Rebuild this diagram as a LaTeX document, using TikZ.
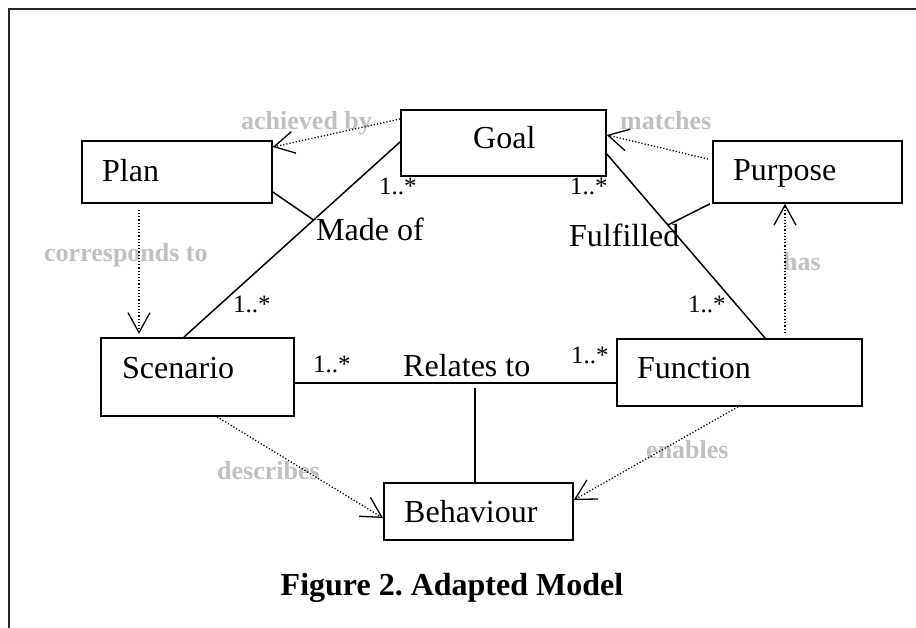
\documentclass[tikz,border=0pt]{standalone}
\usepackage{fontspec}
\setmainfont{Liberation Serif}
\usetikzlibrary{arrows.meta,calc}
\definecolor{lblgray}{RGB}{192,192,192}
\begin{document}
\frenchspacing
\begin{tikzpicture}[x=1pt,y=-1pt,
  box/.style={draw=black, line width=1.8pt, anchor=north west, inner sep=0pt},
  txt/.style={anchor=base west, inner sep=0pt, font=\fontsize{32}{36}\selectfont},
  mult/.style={anchor=base west, inner sep=0pt, font=\fontsize{25}{28}\selectfont},
  rel/.style={anchor=base west, inner sep=0pt, text=lblgray, font=\bfseries\fontsize{26}{30}\selectfont},
  assoc/.style={line width=1.5pt},
  dep/.style={line width=1.3pt, dash pattern=on 1.2pt off 2pt, -{Straight Barb[length=20pt,width=22pt]}},
]
\useasboundingbox (0,0) rectangle (916,628);
\draw[line width=2pt, black!85] (916,9) -- (9,9) -- (9,628);

% boxes
\node[box, minimum width=190pt, minimum height=62pt] (plan) at (81,140) {};
\node[box, minimum width=205pt, minimum height=66pt] (goal) at (400,109) {};
\node[box, minimum width=189pt, minimum height=62pt] (purpose) at (712,140) {};
\node[box, minimum width=193pt, minimum height=78pt] (scen) at (100,337) {};
\node[box, minimum width=245pt, minimum height=67pt] (func) at (616,338) {};
\node[box, minimum width=189pt, minimum height=57pt] (beh) at (383,482) {};

% box texts
\node[txt] (planT) at (102,182) {Plan};
\node[txt] (goalT) at (473,149) {Goal};
\node[txt] (purpT) at (733,181) {Purpose};
\node[txt] (scenT) at (122,378) {Scenario};
\node[txt] (funcT) at (637,378) {Function};
\node[txt] (behT) at (404,522) {Behaviour};

% association names
\node[txt] (relT) at (403,377) {Relates to};
\node[txt] (madeT) at (316,241) {Made of};
\node[txt] (fulT) at (569,247) {Fulfilled};

% multiplicities
\node[mult] (m1) at (379,195) {1..*};
\node[mult] (m2) at (570,195) {1..*};
\node[mult] (m3) at (233,313) {1..*};
\node[mult] (m4) at (688,313) {1..*};
\node[mult] (m5) at (313,373) {1..*};
\node[mult] (m6) at (571,363) {1..*};

% dependency labels
\node[rel] (lach) at (241,130) {achieved by};
\node[rel] (lmat) at (620,130) {matches};
\node[rel] (lcor) at (44,262) {corresponds to};
\node[rel] (lhas) at (783,271) {has};
\node[rel] (ldes) at (217,479) {describes};
\node[rel] (lena) at (646,458) {enables};

% association lines
\coordinate (gL) at ([yshift=-33pt]goal.north west);
\coordinate (sT) at ([xshift=84pt]scen.north west);
\draw[assoc] (gL) -- (sT);
\coordinate (mj) at ($(gL)!0.4!(sT)$);
\draw[assoc] ([yshift=-52pt]plan.north east) -- (mj);

\coordinate (gR) at ([yshift=-45pt]goal.north east);
\coordinate (fT) at ([xshift=149pt]func.north west);
\draw[assoc] (gR) -- (fT);
\coordinate (fj) at ($(gR)!0.386!(fT)$);
\draw[assoc] ([xshift=-2pt]purpose.south west) -- (fj);

\draw[assoc] ([yshift=-46pt]scen.north east) -- ([yshift=-45pt]func.north west);
\coordinate (rj) at (475,388);
\draw[assoc] (rj) -- (rj |- beh.north);

% dependencies
\draw[dep] ([yshift=-10pt]goal.north west) -- ([yshift=-7pt]plan.north east);
\draw[dep] ([xshift=-4pt,yshift=-19pt]purpose.north west) -- ([yshift=-26pt]goal.north east);
\draw[dep, shorten >=3pt] ([xshift=58pt,yshift=-6pt]plan.south west) -- ([xshift=39pt]scen.north west);
\draw[dep] ([xshift=169pt,yshift=5pt]func.north west) -- ([xshift=73pt]purpose.south west);
\draw[dep] ([xshift=117pt]scen.south west) -- ([yshift=-36pt]beh.north west);
\draw[dep] ([xshift=122pt]func.south west) -- ([yshift=-18pt]beh.north east);

% caption
\node[anchor=base, inner sep=0pt, font=\bfseries\fontsize{32}{36}\selectfont] (title) at (452,595) {Figure 2. Adapted Model};
\end{tikzpicture}
\end{document}
